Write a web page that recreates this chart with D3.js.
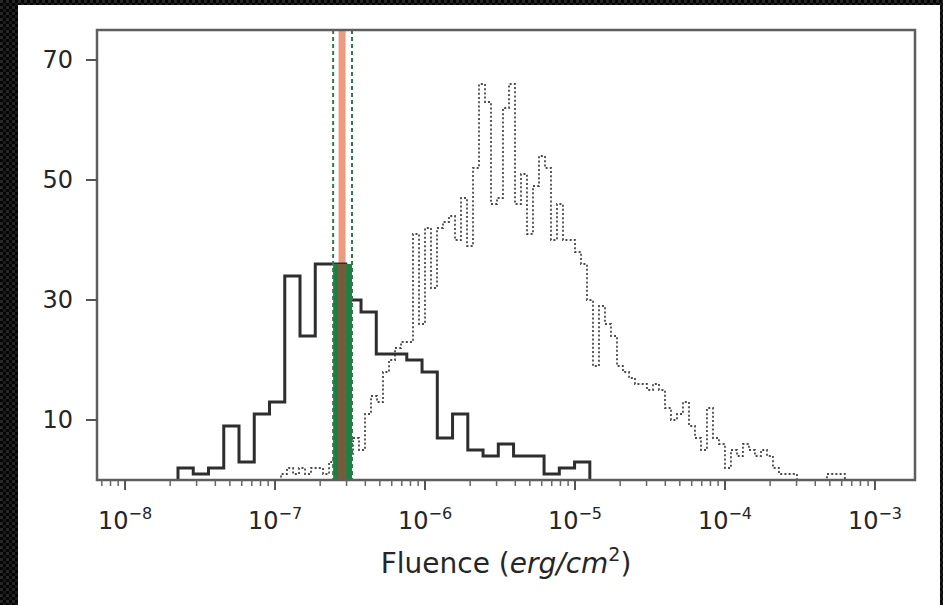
<!DOCTYPE html>
<html>
<head>
<meta charset="utf-8">
<script src="https://cdn.jsdelivr.net/npm/d3@7"></script>
<style>
  body { margin: 0; background: #000; }
  text { font-family: "DejaVu Sans", sans-serif; fill: #262626; }
</style>
</head>
<body>
<div id="chart-area"></div>
<script>
// solid histogram: log10 bin start, bin width (dex), counts
var solidLogStart = -7.647;
var solidLogStep = 0.1017;
var solidCounts = [2, 1, 2, 9, 3, 11, 13, 34, 24, 36, 36, 30, 28, 21, 21, 20, 18, 7, 11, 5, 4, 6, 4, 4, 1, 2, 3];

// dotted histogram (finer bins)
var dottedLogStart = -7.0;
var dottedLogStep = 0.04;
var dottedCounts = [0, 1, 2, 1, 2, 1, 2, 2, 1, 3, 2, 3, 4, 7, 5, 11, 14, 13, 18, 20, 22, 23, 23,
    41, 26, 42, 32, 42, 43, 44, 40, 47, 39, 52, 66, 63, 46, 47, 62, 66, 46, 51, 41, 49, 54, 52, 40,
    46, 40, 40, 38, 36, 30, 19, 29, 26, 24,
    19, 18, 17, 16, 16, 15, 16, 15, 12, 10, 11, 13, 9, 7, 5, 12, 7, 6, 2, 5, 4, 6, 5, 4, 5, 4, 2,
    1, 1, 1, 0, 0, 0, 0, 0, 1, 1, 1, 0];

// median fluence and its interval
var fluenceMedian = 2.80e-7;
var fluenceLow = 2.44e-7;
var fluenceHigh = 3.26e-7;
var bandTop = 36;

var xTickExps = [-8, -7, -6, -5, -4, -3];
var yTicks = [10, 30, 50, 70];

var width = 943, height = 605;
var svg = d3.select("#chart-area").append("svg")
    .attr("width", width)
    .attr("height", height);

// dark checkered border
var defs = svg.append("defs");
var pat = defs.append("pattern")
    .attr("id", "chk")
    .attr("width", 6).attr("height", 6)
    .attr("patternUnits", "userSpaceOnUse");
pat.append("rect").attr("width", 6).attr("height", 6).attr("fill", "#050505");
pat.append("rect").attr("width", 3).attr("height", 3).attr("fill", "#262626");
pat.append("rect").attr("x", 3).attr("y", 3).attr("width", 3).attr("height", 3).attr("fill", "#1a1a1a");
svg.append("rect").attr("width", width).attr("height", height).attr("fill", "url(#chk)");
svg.append("rect")
    .attr("x", 18).attr("y", 5)
    .attr("width", 922).attr("height", 600)
    .attr("fill", "#fff");

var pLeft = 97, pRight = 915, pTop = 30, pBottom = 480;

var x = d3.scaleLog()
    .domain([Math.pow(10, -8.187), Math.pow(10, -2.733)])
    .range([pLeft, pRight]);
var y = d3.scaleLinear()
    .domain([0, 75])
    .range([pBottom, pTop]);

function stepPoints(start, step, counts) {
    var pts = [[start, 0]];
    counts.forEach(function (c, i) {
        pts.push([start + i * step, c]);
        pts.push([start + (i + 1) * step, c]);
    });
    pts.push([start + counts.length * step, 0]);
    return pts;
}

var line = d3.line()
    .x(function (d) { return x(Math.pow(10, d[0])); })
    .y(function (d) { return y(d[1]); });

var plot = svg.append("g");

// orange median line
plot.append("line")
    .attr("x1", x(fluenceMedian)).attr("x2", x(fluenceMedian))
    .attr("y1", pTop).attr("y2", pBottom)
    .attr("stroke", "#ee9a7f")
    .attr("stroke-width", 7);

// dotted histogram
plot.append("path")
    .attr("d", line(stepPoints(dottedLogStart, dottedLogStep, dottedCounts)))
    .attr("fill", "none")
    .attr("stroke", "#4a4a4a")
    .attr("stroke-width", 1.8)
    .attr("stroke-dasharray", "2,2.2");

// solid histogram
plot.append("path")
    .attr("d", line(stepPoints(solidLogStart, solidLogStep, solidCounts)))
    .attr("fill", "none")
    .attr("stroke", "#2e2e2e")
    .attr("stroke-width", 3)
    .attr("stroke-linejoin", "miter");

// green interval band
plot.append("rect")
    .attr("x", x(fluenceLow))
    .attr("width", x(fluenceHigh) - x(fluenceLow))
    .attr("y", y(bandTop))
    .attr("height", y(0) - y(bandTop))
    .attr("fill", "#1d8040");
// orange line seen through the band
plot.append("rect")
    .attr("x", x(fluenceMedian) - 4)
    .attr("width", 8)
    .attr("y", y(bandTop))
    .attr("height", y(0) - y(bandTop))
    .attr("fill", "#7a5a3c");

// interval bounds
[fluenceLow, fluenceHigh].forEach(function (v) {
    plot.append("line")
        .attr("x1", x(v)).attr("x2", x(v))
        .attr("y1", pTop).attr("y2", pBottom)
        .attr("stroke", "#2d7d4a")
        .attr("stroke-width", 2)
        .attr("stroke-dasharray", "4,3");
});

// frame
svg.append("rect")
    .attr("x", pLeft).attr("y", pTop)
    .attr("width", pRight - pLeft).attr("height", pBottom - pTop)
    .attr("fill", "none")
    .attr("stroke", "#5e5e5e")
    .attr("stroke-width", 2.5);

// y ticks
yTicks.forEach(function (t) {
    svg.append("line")
        .attr("x1", pLeft - 11).attr("x2", pLeft)
        .attr("y1", y(t)).attr("y2", y(t))
        .attr("stroke", "#555").attr("stroke-width", 2);
    svg.append("text")
        .attr("x", pLeft - 24).attr("y", y(t))
        .attr("text-anchor", "end")
        .attr("dominant-baseline", "central")
        .attr("font-size", 24)
        .text(t);
});

// x ticks, major and minor
var minor = [];
for (var e = -9; e <= -3; e++) {
    for (var m = 2; m <= 9; m++) minor.push(m * Math.pow(10, e));
}
minor = minor.filter(function (v) { return x(v) > pLeft && x(v) < pRight; });
svg.selectAll(".minor").data(minor).enter().append("line")
    .attr("class", "minor")
    .attr("x1", function (d) { return x(d); })
    .attr("x2", function (d) { return x(d); })
    .attr("y1", pBottom).attr("y2", pBottom + 6)
    .attr("stroke", "#666").attr("stroke-width", 1.5);

xTickExps.forEach(function (e) {
    var px = x(Math.pow(10, e));
    svg.append("line")
        .attr("x1", px).attr("x2", px)
        .attr("y1", pBottom).attr("y2", pBottom + 10)
        .attr("stroke", "#555").attr("stroke-width", 2);
    var t = svg.append("text")
        .attr("x", px).attr("y", 529)
        .attr("text-anchor", "middle")
        .attr("font-size", 24);
    t.append("tspan").text("10");
    t.append("tspan")
        .attr("dy", -10)
        .attr("font-size", 16)
        .text("\u2212" + Math.abs(e));
});

// x axis title
var title = svg.append("text")
    .attr("x", (pLeft + pRight) / 2).attr("y", 573)
    .attr("text-anchor", "middle")
    .attr("font-size", 28);
title.append("tspan").text("Fluence (");
title.append("tspan").attr("font-style", "italic").text("erg/cm");
title.append("tspan").attr("dy", -12).attr("font-size", 19).text("2");
title.append("tspan").attr("dy", 12).text(")");
</script>
</body>
</html>
